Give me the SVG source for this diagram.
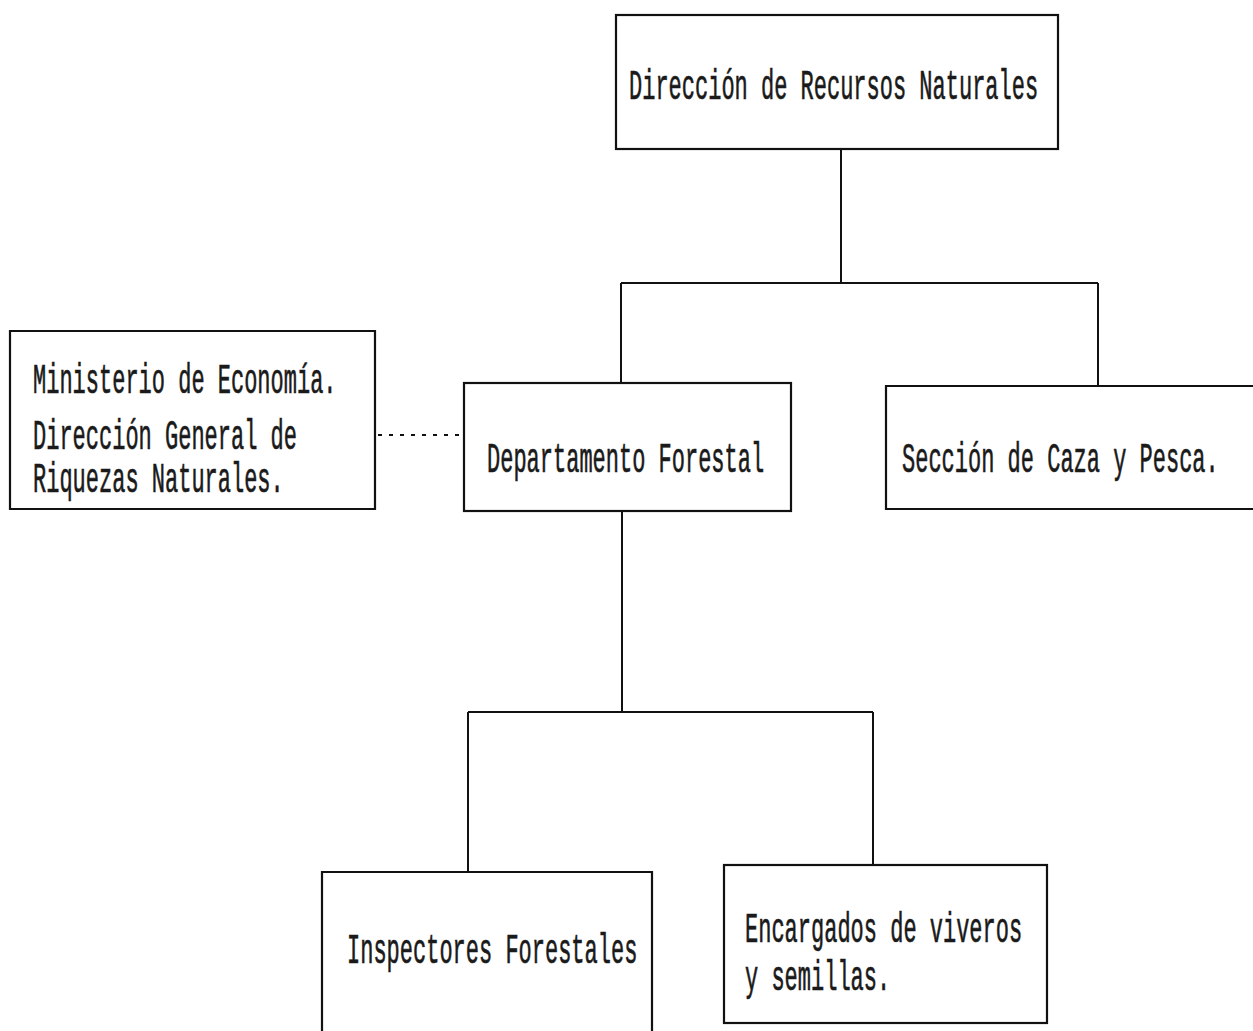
<svg xmlns="http://www.w3.org/2000/svg" width="1253" height="1031" viewBox="0 0 1253 1031">
<style>
  .box { fill: none; stroke: #111; stroke-width: 2.2; }
  .ln { fill: none; stroke: #111; stroke-width: 2; }
  .dot { fill: none; stroke: #111; stroke-width: 2; stroke-dasharray: 4 7; }
  .t { font-family: "Liberation Mono", "Courier New", monospace; font-size: 22px; fill: #1a1a1a; stroke: #1a1a1a; stroke-width: 0.35; }
</style>
<rect width="1253" height="1031" fill="#fff"/>
<g id="connectors">
  <path class="ln" d="M841 149 V283 M621 283 H1098 M621 283 V383 M1098 283 V386"/>
  <path class="ln" d="M622 512 V712 M468 712 H873 M468 712 V872 M873 712 V865"/>
  <path class="dot" d="M378 435 H463"/>
</g>
<g id="n-direccion">
  <rect class="box" x="616" y="15" width="442" height="134"/>
  <text class="t" transform="translate(629 99) scale(1 1.9)">Dirección de Recursos Naturales</text>
</g>
<g id="n-ministerio">
  <path class="box" d="M10 331 H375 V509 H10 Z"/>
  <text class="t" transform="translate(33 393) scale(1 1.9)">Ministerio de Economía.</text>
  <text class="t" transform="translate(33 449) scale(1 1.9)">Dirección General de</text>
  <text class="t" transform="translate(33 492) scale(1 1.9)">Riquezas Naturales.</text>
</g>
<g id="n-departamento">
  <rect class="box" x="464" y="383" width="327" height="128"/>
  <text class="t" transform="translate(487 472) scale(1 1.9)">Departamento Forestal</text>
</g>
<g id="n-seccion">
  <path class="box" d="M1253 386 H886 V509 H1253"/>
  <text class="t" transform="translate(902 472) scale(1 1.9)">Sección de Caza y Pesca.</text>
</g>
<g id="n-inspectores">
  <path class="box" d="M322 1031 V872 H652 V1031"/>
  <text class="t" transform="translate(347 963) scale(1 1.9)">Inspectores Forestales</text>
</g>
<g id="n-encargados">
  <rect class="box" x="724" y="865" width="323" height="158"/>
  <text class="t" transform="translate(745 942) scale(1 1.9)">Encargados de viveros</text>
  <text class="t" transform="translate(745 990) scale(1 1.9)">y semillas.</text>
</g>
</svg>
